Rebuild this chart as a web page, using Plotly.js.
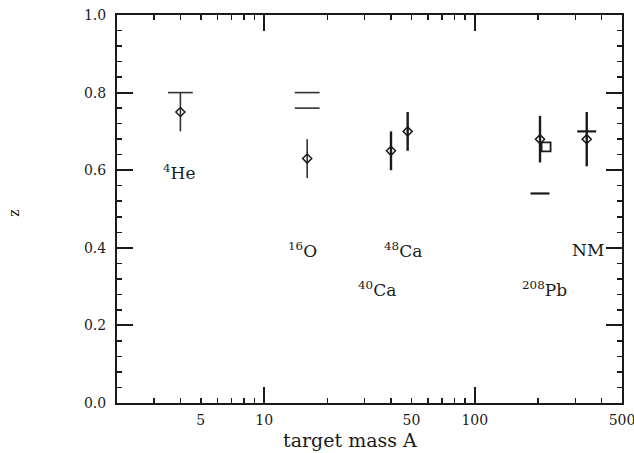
<!DOCTYPE html>
<html>
<head>
<meta charset="utf-8">
<script src="https://cdn.plot.ly/plotly-3.0.1.min.js"></script>
<style>html,body{margin:0;padding:0;background:#fff;}#chart{width:634px;height:453px;}</style>
</head>
<body>
<div id="chart"></div>
<script>
// Measured points (diamonds with vertical error bars)
var nucleiA   = [4, 16, 40, 48, 204, 340];
var zValues   = [0.75, 0.63, 0.65, 0.70, 0.68, 0.68];
var zErrPlus  = [0.05, 0.05, 0.05, 0.05, 0.06, 0.07];
var zErrMinus = [0.05, 0.05, 0.05, 0.05, 0.06, 0.07];
var boldPoint = [false, false, true, true, true, true];

// Square point
var squareA = [218];
var squareZ = [0.66];

// Horizontal theory bars
var barA = [4, 16, 16, 204, 340];
var barZ = [0.80, 0.80, 0.76, 0.54, 0.70];
var barWide = [true, true, true, false, false];

// Labels
var labelText = ['<sup>4</sup>He', '<sup>16</sup>O', '<sup>48</sup>Ca', '<sup>40</sup>Ca', '<sup>208</sup>Pb', 'NM'];
var labelA    = [3.92, 15.2, 45.4, 34.4, 214, 344];
var labelZ    = [0.595, 0.394, 0.394, 0.294, 0.293, 0.394];

// Tick labels / tick positions
var xTickVals = [5, 10, 50, 100, 500];
var xTickText = ['5', '10', '50', '100', '500'];
var xMajorVals = [10, 100];
var xMinorVals = [3, 4, 6, 7, 8, 9, 20, 30, 40, 60, 70, 80, 90, 200, 300, 400];
var yTickVals = [0, 0.2, 0.4, 0.6, 0.8, 1.0];
var yMajorVals = [0.2, 0.4, 0.6, 0.8];
var yMinorVals = [0.04, 0.08, 0.12, 0.16, 0.24, 0.28, 0.32, 0.36, 0.44, 0.48, 0.52, 0.56,
                  0.64, 0.68, 0.72, 0.76, 0.84, 0.88, 0.92, 0.96];

var ink = '#1a1a1a';
var serif = 'DejaVu Serif, serif';

function pointTrace(sel, thick, col) {
  var x = [], y = [], ep = [], em = [];
  for (var i = 0; i < nucleiA.length; i++) {
    if (boldPoint[i] === sel) { x.push(nucleiA[i]); y.push(zValues[i]); ep.push(zErrPlus[i]); em.push(zErrMinus[i]); }
  }
  return {
    x: x, y: y, type: 'scatter', mode: 'markers',
    marker: {symbol: 'diamond-open', size: 7, color: ink, line: {width: 1.5, color: ink}},
    error_y: {type: 'data', symmetric: false, array: ep, arrayminus: em, width: 0, thickness: thick, color: col},
    showlegend: false, hoverinfo: 'skip'
  };
}

function barTrace(wide) {
  var f = wide ? Math.pow(10, 0.059) : Math.pow(10, 0.045);
  var x = [], y = [];
  for (var i = 0; i < barA.length; i++) {
    if (barWide[i] === wide) {
      x.push(barA[i] / f, barA[i] * f, null);
      y.push(barZ[i], barZ[i], null);
    }
  }
  return {x: x, y: y, type: 'scatter', mode: 'lines', line: {color: wide ? '#333' : ink, width: wide ? 1.6 : 2.2},
          showlegend: false, hoverinfo: 'skip', connectgaps: false};
}

var traces = [
  barTrace(true), barTrace(false),
  pointTrace(false, 1.6, '#333'),
  pointTrace(true, 2.4, ink),
  {x: squareA, y: squareZ, type: 'scatter', mode: 'markers',
   marker: {symbol: 'square-open', size: 9, color: ink, line: {width: 1.8, color: ink}},
   showlegend: false, hoverinfo: 'skip'},
  {x: [10], y: [-1], xaxis: 'x2', yaxis: 'y', type: 'scatter', mode: 'markers', marker: {opacity: 0}, showlegend: false, hoverinfo: 'skip'},
  {x: [10], y: [-1], xaxis: 'x', yaxis: 'y2', type: 'scatter', mode: 'markers', marker: {opacity: 0}, showlegend: false, hoverinfo: 'skip'}
];

var annotations = labelText.map(function (t, i) {
  return {x: Math.log10(labelA[i]), y: labelZ[i], xref: 'x', yref: 'y', text: t, showarrow: false,
          font: {family: serif, size: 17, color: ink}, xanchor: 'center', yanchor: 'middle'};
});
annotations.push({x: -0.204, y: 0.49, xref: 'paper', yref: 'paper', text: 'z', showarrow: false,
                  xanchor: 'center', yanchor: 'middle',
                  textangle: -90, font: {family: serif, size: 14, color: ink}});
annotations.push({x: 0.461, y: -0.095, xref: 'paper', yref: 'paper', text: 'target mass A', showarrow: false,
                  xanchor: 'center', yanchor: 'middle', font: {family: serif, size: 19, color: ink}});

var xr = [Math.log10(2), Math.log10(500) + 1e-6];

var layout = {
  width: 634, height: 453,
  margin: {l: 117, r: 12, t: 15, b: 50},
  paper_bgcolor: '#fff', plot_bgcolor: '#fff',
  showlegend: false,
  xaxis: {
    type: 'log', range: xr, tickmode: 'array', tickvals: xTickVals, ticktext: xTickText,
    ticks: 'inside', ticklen: 5, tickwidth: 1.5, tickcolor: ink, ticklabelstandoff: 3,
    ticklabeloverflow: 'allow',
    showline: true, linewidth: 2, linecolor: ink, mirror: 'allticks', showgrid: false, zeroline: false,
    tickfont: {family: serif, size: 14, color: ink},
    minor: {tickmode: 'array', tickvals: xMinorVals, ticks: 'inside', ticklen: 5, tickwidth: 1.5, tickcolor: ink, showgrid: false}
  },
  xaxis2: {
    type: 'log', range: xr, overlaying: 'x', anchor: 'y', side: 'bottom',
    tickmode: 'array', tickvals: xMajorVals, ticks: 'inside', ticklen: 16, tickwidth: 2, tickcolor: ink,
    showticklabels: false, showline: false, mirror: 'allticks', showgrid: false, zeroline: false
  },
  yaxis: {
    range: [0, 1], tickmode: 'array', tickvals: yTickVals, tickformat: '.1f',
    ticks: 'inside', ticklen: 5, tickwidth: 1.5, tickcolor: ink,
    showline: true, linewidth: 2, linecolor: ink, mirror: 'allticks', showgrid: false, zeroline: false,
    tickfont: {family: serif, size: 14, color: ink}, ticklabelstandoff: 6,
    minor: {tickmode: 'array', tickvals: yMinorVals, ticks: 'inside', ticklen: 5, tickwidth: 1.5, tickcolor: ink, showgrid: false}
  },
  yaxis2: {
    range: [0, 1], overlaying: 'y', anchor: 'x', side: 'left',
    tickmode: 'array', tickvals: yMajorVals, ticks: 'inside', ticklen: 16, tickwidth: 2, tickcolor: ink,
    showticklabels: false, showline: false, mirror: 'allticks', showgrid: false, zeroline: false
  },
  annotations: annotations
};

Plotly.newPlot('chart', traces, layout, {staticPlot: true, displayModeBar: false});
</script>
</body>
</html>
